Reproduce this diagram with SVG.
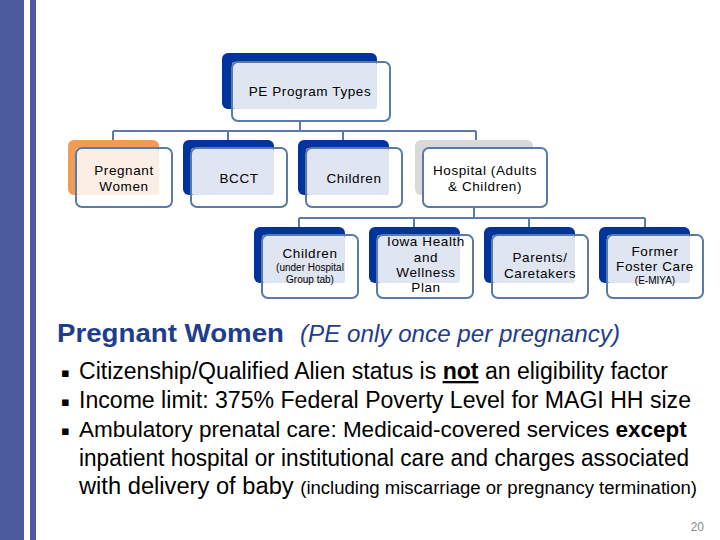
<svg xmlns="http://www.w3.org/2000/svg" width="720" height="540" viewBox="0 0 720 540">
<style>
.back{fill:#00339c}
.light{fill:#dfe5f1}
.front{fill:none;stroke:#5b7aa8;stroke-width:2}
.conn{fill:none;stroke:#5b7aa8;stroke-width:2}
.nt{font-family:"Liberation Sans",Arial,sans-serif;font-size:13.5px;fill:#000;text-anchor:middle;letter-spacing:0.6px}
.ns{font-family:"Liberation Sans",Arial,sans-serif;font-size:10px;fill:#000;text-anchor:middle}
.body{font-family:"Liberation Sans",Arial,sans-serif;font-size:23px;fill:#000}
</style>
<rect width="720" height="540" fill="#fff"/>
<rect x="0" y="0" width="24" height="540" fill="#4a5a9c"/>
<rect x="30" y="0" width="6" height="540" fill="#4a5a9c"/>

<g id="connectors">
<path class="conn" d="M300,121 V131 M113,131 H476 M113,131 V140 M228,131 V140 M343,131 V140 M476,131 V140"/>
<path class="conn" d="M474,207 V218 M299,218 H645 M299,218 V227 M414,218 V227 M529,218 V227 M645,218 V227"/>
</g>

<g id="pe-program-types">
<rect class="back" x="222" y="53" width="155" height="56" rx="6"/>
<rect class="light" x="232" y="62" width="145" height="47" rx="3"/>
<rect class="front" x="232" y="62" width="158" height="59" rx="6"/>
<text class="nt" x="310" y="96">PE Program Types</text>
</g>

<g id="pregnant-women">
<rect x="68" y="140" width="91" height="55" rx="6" fill="#f09c55"/>
<rect x="76" y="148" width="83" height="47" rx="3" fill="#fbeee4"/>
<rect class="front" x="76" y="148" width="96" height="59" rx="6"/>
<text class="nt" x="124" y="175">Pregnant</text>
<text class="nt" x="124" y="191">Women</text>
</g>

<g id="bcct">
<rect class="back" x="183" y="140" width="91" height="55" rx="6"/>
<rect class="light" x="191" y="148" width="83" height="47" rx="3"/>
<rect class="front" x="191" y="148" width="96" height="59" rx="6"/>
<text class="nt" x="239" y="183">BCCT</text>
</g>

<g id="children">
<rect class="back" x="298" y="140" width="91" height="55" rx="6"/>
<rect class="light" x="306" y="148" width="83" height="47" rx="3"/>
<rect class="front" x="306" y="148" width="96" height="59" rx="6"/>
<text class="nt" x="354" y="183">Children</text>
</g>

<g id="hospital">
<rect x="415" y="140" width="118" height="55" rx="6" fill="#d9d9d9"/>
<rect x="423" y="148" width="124" height="59" rx="6" fill="#fff" stroke="#5b7aa8" stroke-width="2"/>
<text class="nt" x="485" y="175">Hospital (Adults</text>
<text class="nt" x="485" y="191">&amp; Children)</text>
</g>

<g id="children-hospital">
<rect class="back" x="254" y="227" width="91" height="56" rx="6"/>
<rect class="light" x="262" y="235" width="83" height="48" rx="3"/>
<rect class="front" x="262" y="235" width="96" height="63" rx="6"/>
<text class="nt" x="310" y="258">Children</text>
<text class="ns" x="310" y="271">(under Hospital</text>
<text class="ns" x="310" y="283">Group tab)</text>
</g>

<g id="iowa-health">
<rect class="back" x="369" y="227" width="91" height="56" rx="6"/>
<rect class="light" x="377" y="235" width="83" height="48" rx="3"/>
<rect class="front" x="377" y="235" width="96" height="63" rx="6"/>
<text class="nt" x="426" y="246">Iowa Health</text>
<text class="nt" x="426" y="262">and</text>
<text class="nt" x="426" y="277">Wellness</text>
<text class="nt" x="426" y="292">Plan</text>
</g>

<g id="parents">
<rect class="back" x="484" y="227" width="91" height="56" rx="6"/>
<rect class="light" x="492" y="235" width="83" height="48" rx="3"/>
<rect class="front" x="492" y="235" width="96" height="63" rx="6"/>
<text class="nt" x="540" y="262">Parents/</text>
<text class="nt" x="540" y="278">Caretakers</text>
</g>

<g id="former-foster">
<rect class="back" x="599" y="227" width="91" height="56" rx="6"/>
<rect class="light" x="607" y="235" width="83" height="48" rx="3"/>
<rect class="front" x="607" y="235" width="96" height="63" rx="6"/>
<text class="nt" x="655" y="256">Former</text>
<text class="nt" x="655" y="271">Foster Care</text>
<text class="ns" x="655" y="284">(E-MIYA)</text>
</g>

<text x="57" y="342" font-family="'Liberation Sans',Arial,sans-serif" font-size="25" font-weight="bold" fill="#1f3d8c" textLength="227" lengthAdjust="spacingAndGlyphs">Pregnant Women</text>
<text x="300" y="342" font-family="'Liberation Sans',Arial,sans-serif" font-size="24" font-style="italic" fill="#1f3d8c" textLength="320" lengthAdjust="spacingAndGlyphs">(PE only once per pregnancy)</text>

<g font-family="'DejaVu Sans',sans-serif" font-size="13" fill="#000">
<text x="61" y="377">▪</text>
<text x="61" y="406">▪</text>
<text x="61" y="435">▪</text>
</g>
<text class="body" x="79" y="379" textLength="589" lengthAdjust="spacingAndGlyphs">Citizenship/Qualified Alien status is <tspan font-weight="bold" text-decoration="underline">not</tspan> an eligibility factor</text>
<text class="body" x="79" y="408" textLength="612" lengthAdjust="spacingAndGlyphs">Income limit: 375% Federal Poverty Level for MAGI HH size</text>
<text class="body" x="79" y="437" style="font-size:22.5px">Ambulatory prenatal care: Medicaid-covered services <tspan font-weight="bold">except</tspan></text>
<text class="body" x="79" y="466" textLength="610" lengthAdjust="spacingAndGlyphs">inpatient hospital or institutional care and charges associated</text>
<text class="body" x="79" y="494" textLength="618" lengthAdjust="spacingAndGlyphs">with delivery of baby <tspan font-size="18">(including miscarriage or pregnancy termination)</tspan></text>

<text x="704" y="531" font-family="'Liberation Sans',Arial,sans-serif" font-size="12" fill="#888" text-anchor="end">20</text>
</svg>
